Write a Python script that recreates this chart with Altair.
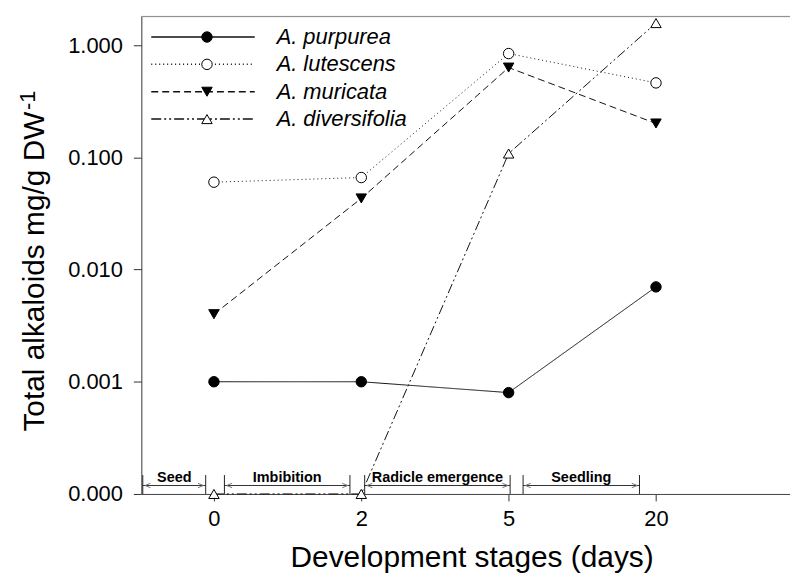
import json
import altair as alt
import pandas as pd

# ---------------- data ----------------
days = ["0", "2", "5", "20"]
stage_idx = [0, 1, 2, 3]
species = ["A. purpurea", "A. lutescens", "A. muricata", "A. diversifolia"]
purpurea = [0.001, 0.001, 0.0008, 0.007]
lutescens = [0.060, 0.066, 0.84, 0.46]
muricata = [0.004, 0.043, 0.63, 0.20]
diversifolia = [0.0001, 0.0001, 0.108, 1.57]
y_ticks = [0.0001, 0.001, 0.01, 0.1, 1.0]

stage_names = ["Seed", "Imbibition", "Radicle emergence", "Seedling"]
stage_start = [-0.483, 0.071, 1.023, 2.098]
stage_end = [-0.056, 0.923, 2.010, 2.888]

series = [purpurea, lutescens, muricata, diversifolia]
rows = []
for sp, vals in zip(species, series):
    for i, v in zip(stage_idx, vals):
        rows.append({"species": sp, "idx": i, "val": v})
df = pd.DataFrame(rows)

df_stage = pd.DataFrame({
    "name": stage_names,
    "start": stage_start,
    "end": stage_end,
})
df_stage["mid"] = (df_stage["start"] + df_stage["end"]) / 2

# ---------------- styles ----------------
FONT = "Liberation Sans"
W, H = 652, 480
xmin = (142 - 215) / 148.1
xmax = (142 + W - 215) / 148.1

dash_scale = alt.Scale(domain=species, range=[[1, 0], [1, 3], [7, 4], [10, 3, 2, 3, 2, 3]])
shape_scale = alt.Scale(domain=species, range=["circle", "circle", "triangle-down", "triangle-up"])
fill_scale = alt.Scale(domain=species, range=["black", "white", "black", "white"])

xscale = alt.Scale(domain=[xmin, xmax], nice=False, zero=False)
yscale = alt.Scale(type="log", domain=[0.0001, 1.8], nice=False)

label_expr = json.dumps(days) + "[datum.value]"

x_axis = alt.Axis(
    values=stage_idx, labelExpr=label_expr, labelFont=FONT, labelFontSize=22,
    labelColor="black", tickSize=7, tickColor="#333", domainColor="#444",
    labelPadding=8, grid=False,
    title="Development stages (days)", titleFont=FONT, titleFontSize=30,
    titleFontWeight="normal", titleColor="black", titleX=332, titleY=73,
    titleAlign="center", titleBaseline="alphabetic",
)
y_axis = alt.Axis(
    values=y_ticks, format=".3f", labelFont=FONT, labelFontSize=22,
    labelColor="black", tickSize=8, tickColor="#333", domainColor="#444",
    labelPadding=11, grid=False,
    title="Total alkaloids mg/g DW", titleFont=FONT, titleFontSize=30,
    titleFontWeight="normal", titleColor="black", titleX=-98, titleY=256,
    titleAlign="center", titleBaseline="alphabetic",
)

base = alt.Chart(df).encode(
    x=alt.X("idx:Q", scale=xscale, axis=x_axis),
    y=alt.Y("val:Q", scale=yscale, axis=y_axis),
)

lines = base.mark_line(strokeWidth=1, color="#111").encode(
    detail="species:N",
    strokeDash=alt.StrokeDash("species:N", scale=dash_scale, legend=None),
)
points = base.mark_point(filled=True, size=110, stroke="black", strokeWidth=1, opacity=1).encode(
    shape=alt.Shape("species:N", scale=shape_scale, legend=None),
    fill=alt.Fill("species:N", scale=fill_scale, legend=None),
)

one = pd.DataFrame({"a": [0]})
# top frame line
top_line = alt.Chart(one).mark_rule(color="#888", strokeWidth=1).encode(
    x=alt.value(0), x2=alt.value(W), y=alt.value(0)
)
# superscript of the y title
sup = alt.Chart(one).mark_text(text="-1", font=FONT, fontSize=22, angle=270,
                               align="left", baseline="alphabetic", color="black").encode(
    x=alt.value(-107), y=alt.value(94)
)

# manual legend
legend_layers = []
for k, sp in enumerate(species):
    ly = 20.7 + 27.5 * k
    dleg = pd.DataFrame({"species": [sp]})
    legend_layers.append(
        alt.Chart(dleg).mark_rule(strokeWidth=1.5, color="#111").encode(
            x=alt.value(10), x2=alt.value(114), y=alt.value(ly),
            strokeDash=alt.StrokeDash("species:N", scale=dash_scale, legend=None),
        )
    )
    legend_layers.append(
        alt.Chart(dleg).mark_point(filled=True, size=110, stroke="black", strokeWidth=1, opacity=1).encode(
            x=alt.value(66), y=alt.value(ly),
            shape=alt.Shape("species:N", scale=shape_scale, legend=None),
            fill=alt.Fill("species:N", scale=fill_scale, legend=None),
        )
    )
    legend_layers.append(
        alt.Chart(dleg).mark_text(align="left", baseline="middle", font=FONT, fontSize=22,
                                  fontStyle="italic", color="black").encode(
            x=alt.value(136), y=alt.value(ly), text="species:N"
        )
    )

# stage annotations
sbase = alt.Chart(df_stage)
arrow_y = 471.5
stage_line = sbase.mark_rule(color="#333", strokeWidth=1).encode(
    x=alt.X("start:Q", scale=xscale), x2="end:Q", y=alt.value(arrow_y)
)
bar_l = sbase.mark_rule(color="#222", strokeWidth=1).encode(
    x=alt.X("start:Q", scale=xscale), y=alt.value(461), y2=alt.value(480)
)
bar_r = sbase.mark_rule(color="#222", strokeWidth=1).encode(
    x=alt.X("end:Q", scale=xscale), y=alt.value(461), y2=alt.value(480)
)
head_l = sbase.mark_point(shape="M1,-0.8L-1,0L1,0.8", size=30, filled=False, stroke="#777",
                          strokeWidth=1, opacity=1, xOffset=5).encode(
    x=alt.X("start:Q", scale=xscale), y=alt.value(arrow_y)
)
head_r = sbase.mark_point(shape="M-1,-0.8L1,0L-1,0.8", size=30, filled=False, stroke="#777",
                          strokeWidth=1, opacity=1, xOffset=-5).encode(
    x=alt.X("end:Q", scale=xscale), y=alt.value(arrow_y)
)
stage_text = sbase.mark_text(font=FONT, fontSize=14.5, fontWeight="bold", color="black",
                             baseline="middle", align="center").encode(
    x=alt.X("mid:Q", scale=xscale), y=alt.value(464), text="name:N"
)

chart = alt.layer(
    top_line, lines, points, stage_line, bar_l, bar_r, head_l, head_r, stage_text,
    sup, *legend_layers
).properties(
    width=W, height=H,
    padding={"left": 134, "top": 7, "right": 0, "bottom": 80},
    autosize=alt.AutoSizeParams(type="none"),
).configure_view(stroke=None).configure(background="white")

chart.save("out.html", embed_options={"renderer": "svg", "actions": False})
